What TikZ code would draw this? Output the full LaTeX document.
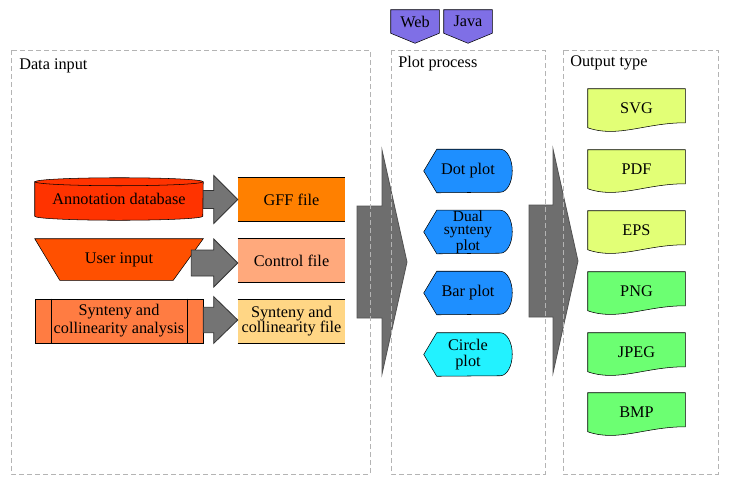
\documentclass[tikz,border=0pt]{standalone}
\usepackage{fontspec}
\setmainfont{Liberation Serif}
\usetikzlibrary{calc,backgrounds}

\definecolor{panelgray}{HTML}{B4B4B4}
\definecolor{biggray}{HTML}{6E6E6E}
\definecolor{smallgray}{HTML}{747474}
\definecolor{annred}{HTML}{FF3300}
\definecolor{userred}{HTML}{FF5000}
\definecolor{anaorange}{HTML}{FF7C42}
\definecolor{gfforange}{HTML}{FF8000}
\definecolor{ctlsalmon}{HTML}{FFA97C}
\definecolor{syfyellow}{HTML}{FFD685}
\definecolor{plotblue}{HTML}{1E8FFF}
\definecolor{plotcyan}{HTML}{22F2FF}
\definecolor{tagpurple}{HTML}{7F6FE6}
\definecolor{docyellow}{HTML}{E2FF76}
\definecolor{docgreen}{HTML}{6CFF72}

\tikzset{
  fatarrow/.style n args={3}{to path={let \p1=(\tikztostart), \p2=(\tikztotarget) in
    (\x1,\y2+#1) -- (\x2-#3,\y2+#1) -- (\x2-#3,\y2+#2) -- (\x2,\y2)
    -- (\x2-#3,\y2-#2) -- (\x2-#3,\y2-#1) -- (\x1,\y2-#1) -- cycle}},
  bigarrow/.style={fill=biggray, draw=biggray!75!black, line width=.6pt, fatarrow={42pt}{84pt}{18.75pt}},
  smallarrow/.style={fill=smallgray, draw=black!80, line width=.6pt},
  panel/.style={draw=panelgray, line width=.75pt, dash pattern=on 3.75pt off 2.25pt},
  title/.style={anchor=west},
  srcbox/.style={minimum width=126pt, minimum height=31.5pt},
  filebox/.style={minimum width=80.25pt, minimum height=32.25pt},
  plotbox/.style={minimum width=66pt, minimum height=32.25pt},
  docbox/.style={minimum width=72.75pt, minimum height=28.5pt},
  tagbox/.style={minimum width=36pt, minimum height=17.25pt},
}

\begin{document}
\begin{tikzpicture}[x=.75pt,y=.75pt,
    every node/.style={font=\fontsize{12.2}{13.5}\selectfont, inner sep=0pt, align=center}]
  \useasboundingbox (0,0) rectangle (729,-486);

  % big arrows between the panels
  \coordinate (midin) at (357,-262);
  \coordinate (midplot) at (407,-262);
  \coordinate (midout) at (529,-261);
  \coordinate (midtype) at (578,-261);
  \draw[bigarrow] (midin) to (midplot);
  \draw[bigarrow] (midout) to (midtype);

  \draw[panel] (11,-50) rectangle (370,-474);
  \draw[panel] (391,-50) rectangle (545,-474);
  \draw[panel] (563,-50) rectangle (718,-474);
  \node[title] (tin) at (19,-66) {Data input};
  \node[title] (tplot) at (398,-64) {Plot process};
  \node[title] (tout) at (570,-63) {Output type};

  \node[tagbox] (web) at (415,-21.5) {Web};
  \node[tagbox] (java) at (468,-21.5) {Java};

  % data input
  \node[srcbox, minimum height=25.5pt] (ann) at (119,-199) {Annotation database};
  \node[srcbox, minimum height=30.75pt] (user) at (119,-259.5) {User input};
  \node[srcbox, minimum height=33pt, fill=anaorange, draw] (ana) at (119,-321) {Synteny and\\collinearity analysis};
  \node[filebox, fill=gfforange] (gff) at (291.5,-199.5) {GFF file};
  \node[filebox, fill=ctlsalmon] (ctl) at (291.5,-260.5) {Control file};
  \node[filebox, fill=syfyellow, font=\fontsize{12.2}{11.25}\selectfont] (syf) at (291.5,-321.5) {Synteny and\\collinearity file};
  \draw ($(ana.north west)+(17,0)$) -- ($(ana.south west)+(17,0)$);
  \draw ($(ana.north east)+(-16,0)$) -- ($(ana.south east)+(-16,0)$);
  \foreach \n in {gff,ctl,syf}
    \draw (\n.north west) -- (\n.north east) (\n.south west) -- (\n.south east);

  \coordinate (userout) at ($(user.east)+(-12,0)$);
  \draw[smallarrow, fatarrow={6.75pt}{18pt}{18pt}] (ann.east) to (gff.west);
  \draw[smallarrow, fatarrow={9.75pt}{18pt}{18pt}] (userout) to ($(ctl.west)+(0,-2.5)$);
  \draw[smallarrow, fatarrow={9.5pt}{17.5pt}{18pt}] (ana.east) to ($(syf.west)+(0,1.5)$);

  % plot process
  \node[plotbox] (dot) at (468,-171) {Dot plot};
  \node[plotbox, font=\fontsize{11.6}{10.2}\selectfont] (dual) at (468,-232) {Dual\\synteny\\plot};
  \node[plotbox] (bar) at (468,-293) {Bar plot};
  \node[plotbox, font=\fontsize{12.2}{12}\selectfont] (circ) at (468,-354.5) {Circle\\plot};

  % output type
  \node[docbox] (svg) at (636.5,-108) {SVG};
  \node[docbox] (pdf) at (636.5,-169) {PDF};
  \node[docbox] (eps) at (636.5,-230) {EPS};
  \node[docbox] (png) at (636.5,-291) {PNG};
  \node[docbox] (jpeg) at (636.5,-352) {JPEG};
  \node[docbox] (bmp) at (636.5,-412) {BMP};

  \begin{scope}[on background layer]
    % cylinder
    \filldraw[fill=annred] (ann.north west) -- (ann.south west)
      arc[start angle=180, end angle=360, x radius=84, y radius=4]
      -- (ann.north east) arc[start angle=0, end angle=180, x radius=84, y radius=4] -- cycle;
    \draw (ann.north west) arc[start angle=180, end angle=360, x radius=84, y radius=4];
    % trapezium
    \filldraw[fill=userred] (user.north west) -- (user.north east)
      -- ($(user.south east)+(-30,0)$) -- ($(user.south west)+(25,0)$) -- cycle;
    % tags
    \foreach \n in {web,java}
      \filldraw[fill=tagpurple] (\n.north west) -- (\n.north east) -- (\n.south east)
        -- ($(\n.south)+(0,-10)$) -- (\n.south west) -- cycle;
    % display shapes
    \foreach \n/\c in {dot/plotblue,dual/plotblue,bar/plotblue,circ/plotcyan}
      \filldraw[fill=\c] (\n.west) -- ($(\n.north west)+(13,0)$) -- ($(\n.north east)+(-12,0)$)
        arc[start angle=90, end angle=-90, x radius=12, y radius=21.5]
        -- ($(\n.south west)+(13,0)$) -- cycle;
    % documents
    \foreach \n/\c in {svg/docyellow,pdf/docyellow,eps/docyellow,png/docgreen,jpeg/docgreen,bmp/docgreen}
      \filldraw[fill=\c] ($(\n.south west)+(0,-0.5)$) -- (\n.north west) -- (\n.north east)
        -- ($(\n.south east)+(0,4.5)$)
        .. controls ($(\n.south east)+(-40,4.5)$) and ($(\n.south west)+(30,-11)$) .. ($(\n.south west)+(0,-0.5)$) -- cycle;
  \end{scope}
\end{tikzpicture}
\end{document}
